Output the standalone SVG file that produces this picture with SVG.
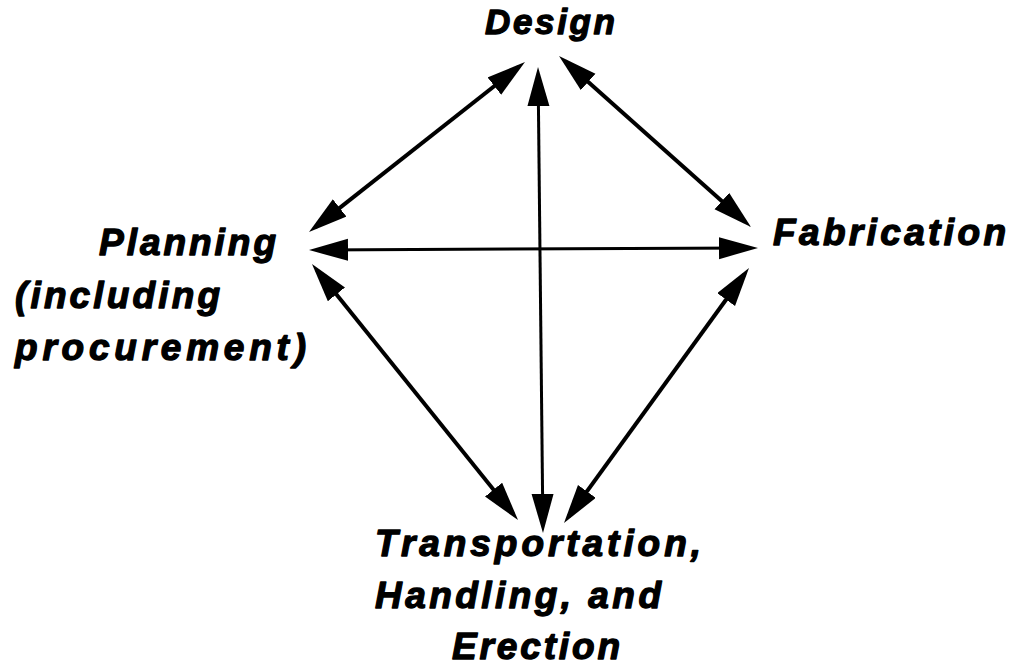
<svg xmlns="http://www.w3.org/2000/svg" width="1021" height="666" viewBox="0 0 1021 666">
<style>
.lbl{font-family:"Liberation Sans",Arial,sans-serif;font-weight:bold;font-style:italic;font-size:37px;fill:#000;stroke:#000;stroke-width:1.3;stroke-linejoin:round}
.c{stroke:#000;fill:none;marker-start:url(#ah);marker-end:url(#ah)}
.d{stroke-width:4}
.s{stroke-width:3}
</style>
<defs>
<marker id="ah" markerUnits="userSpaceOnUse" markerWidth="40" markerHeight="24" viewBox="0 0 40 24" refX="31" refY="11" orient="auto-start-reverse">
<path d="M0,0 L39,11 L0,22 Z" fill="#000"/>
</marker>
</defs>
<rect width="1021" height="666" fill="#fff"/>
<g id="connectors">
<line class="c d" x1="518.7" y1="66.9" x2="315.3" y2="227.1"/>
<line class="c s" x1="538.1" y1="75" x2="542.9" y2="525"/>
<line class="c s" x1="317" y1="250" x2="750" y2="248"/>
<line class="c d" x1="565" y1="61.3" x2="745" y2="221.7"/>
<line class="c d" x1="317" y1="270.2" x2="513" y2="513.8"/>
<line class="c d" x1="744.3" y1="274.5" x2="568.7" y2="516.5"/>
</g>
<g id="design">
<text class="lbl" x="485" y="34" textLength="130" lengthAdjust="spacing" style="font-size:35px">Design</text>
</g>
<g id="planning">
<text class="lbl" x="99" y="255" textLength="177" lengthAdjust="spacing">Planning</text>
<text class="lbl" x="15" y="308" textLength="205" lengthAdjust="spacing">(including</text>
<text class="lbl" x="15" y="360" textLength="291" lengthAdjust="spacing">procurement)</text>
</g>
<g id="fabrication">
<text class="lbl" x="773" y="245" textLength="233" lengthAdjust="spacing">Fabrication</text>
</g>
<g id="transportation">
<text class="lbl" x="375" y="556" textLength="326" lengthAdjust="spacing">Transportation,</text>
<text class="lbl" x="375" y="608" textLength="286" lengthAdjust="spacing">Handling, and</text>
<text class="lbl" x="452" y="659" textLength="168" lengthAdjust="spacing">Erection</text>
</g>
</svg>
